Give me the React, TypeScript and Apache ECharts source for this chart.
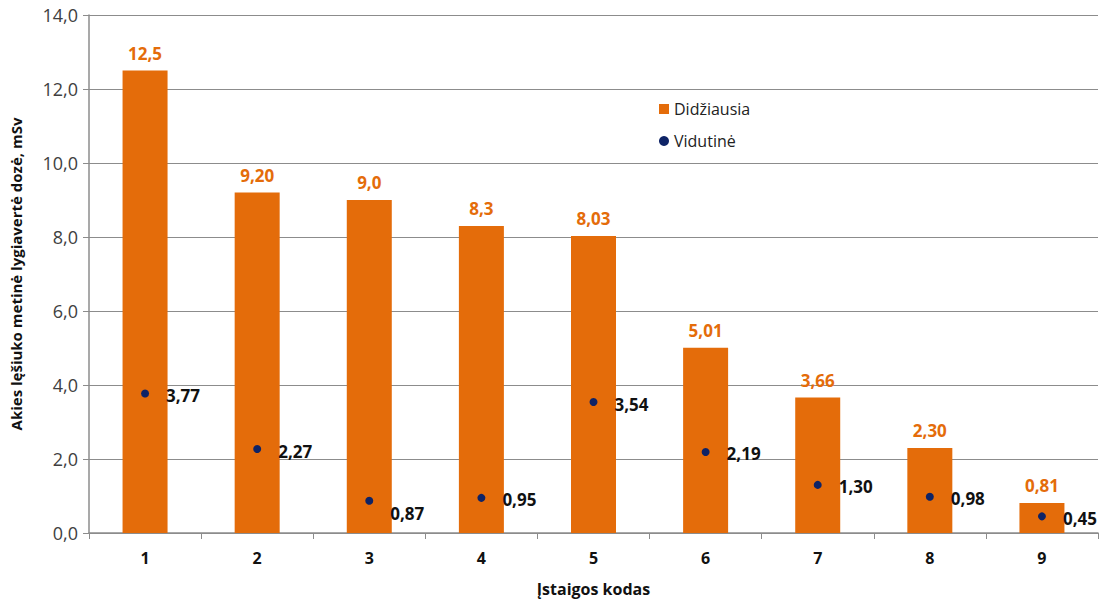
import React, { useEffect, useRef } from "react";
import * as echarts from "echarts";

const categories = ["1", "2", "3", "4", "5", "6", "7", "8", "9"];
const maxValues = [12.5, 9.2, 9.0, 8.3, 8.03, 5.01, 3.66, 2.3, 0.81];
const maxLabels = ["12,5", "9,20", "9,0", "8,3", "8,03", "5,01", "3,66", "2,30", "0,81"];
const avgValues = [3.77, 2.27, 0.87, 0.95, 3.54, 2.19, 1.3, 0.98, 0.45];
const avgLabels = ["3,77", "2,27", "0,87", "0,95", "3,54", "2,19", "1,30", "0,98", "0,45"];
const yTicks = [0, 2, 4, 6, 8, 10, 12, 14];

const FONT = "'Open Sans', 'Noto Sans', sans-serif";
const ORANGE = "#E46C0A";
const NAVY = "#0E2366";
const GRID = "#8c8c8c";

export default function App() {
  const ref = useRef<HTMLDivElement>(null);

  useEffect(() => {
    document.body.style.margin = "0";
    const chart = echarts.init(ref.current!, null, { renderer: "svg" });
    chart.setOption({
      animation: false,
      textStyle: { fontFamily: FONT },
      legend: {
        orient: "vertical",
        left: 654,
        top: 96,
        itemGap: 16,
        itemWidth: 10,
        itemHeight: 10,
        textStyle: { fontFamily: FONT, fontSize: 16, color: "#222" },
        data: [
          { name: "Didžiausia", icon: "rect" },
          { name: "Vidutinė", icon: "circle" },
        ],
      },
      grid: { left: 85, right: 4, top: 15, bottom: 67 },
      xAxis: {
        type: "category",
        data: categories,
        name: "Įstaigos kodas",
        nameLocation: "middle",
        nameGap: 48,
        nameTextStyle: { fontFamily: FONT, fontSize: 16, fontWeight: "bold", color: "#111" },
        axisLine: { lineStyle: { color: GRID, width: 1.5 } },
        axisTick: { show: true, alignWithLabel: false, length: 6, lineStyle: { color: GRID } },
        axisLabel: { fontFamily: FONT, fontSize: 16, fontWeight: "bold", color: "#111", margin: 17 },
      },
      yAxis: {
        type: "value",
        min: 0,
        max: 14,
        interval: 2,
        name: "Akies lęšiuko metinė lygiavertė dozė, mSv",
        nameLocation: "middle",
        nameGap: 66,
        nameRotate: 90,
        nameTextStyle: { fontFamily: FONT, fontSize: 15, fontWeight: "bold", color: "#111" },
        axisLine: { show: true, lineStyle: { color: GRID, width: 1.5 } },
        axisTick: { show: true, length: 6, lineStyle: { color: GRID } },
        splitLine: { show: true, lineStyle: { color: GRID, width: 1.2 } },
        axisLabel: {
          fontFamily: FONT,
          fontSize: 18,
          color: "#404040",
          margin: 11,
          formatter: (v: number) => (yTicks.includes(v) ? v.toFixed(1).replace(".", ",") : ""),
        },
      },
      series: [
        {
          name: "Didžiausia",
          type: "bar",
          data: maxValues,
          barWidth: 45,
          itemStyle: { color: ORANGE },
          label: {
            show: true,
            position: "top",
            distance: 9,
            fontFamily: FONT,
            fontSize: 17,
            fontWeight: "bold",
            color: ORANGE,
            formatter: (p: any) => maxLabels[p.dataIndex],
          },
        },
        {
          name: "Vidutinė",
          type: "scatter",
          data: avgValues.map((v, i) => ({
            value: v,
            label: i === 2 ? { offset: [0, 13] } : undefined,
          })),
          symbol: "circle",
          symbolSize: 8,
          itemStyle: { color: NAVY, opacity: 1 },
          z: 5,
          label: {
            show: true,
            position: "right",
            distance: 17,
            offset: [0, 2],
            fontFamily: FONT,
            fontSize: 17,
            fontWeight: "bold",
            color: "#111",
            formatter: (p: any) => avgLabels[p.dataIndex],
          },
        },
      ],
    });
    return () => chart.dispose();
  }, []);

  return <div ref={ref} style={{ width: 1102, height: 602 }} />;
}
